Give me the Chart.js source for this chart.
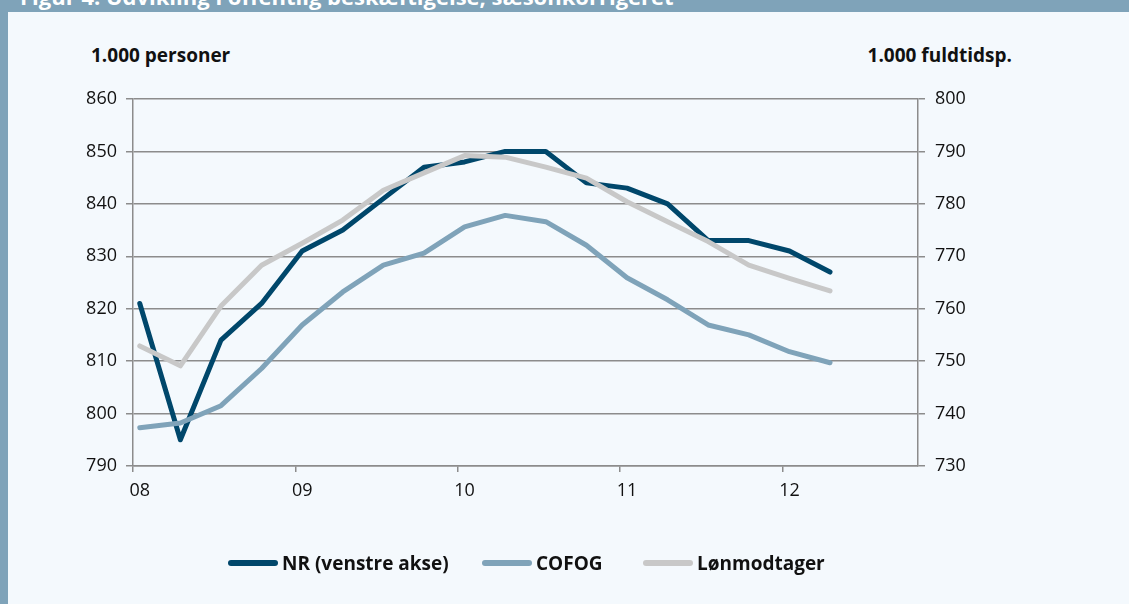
<!DOCTYPE html>
<html>
<head>
<meta charset="utf-8">
<script src="https://cdn.jsdelivr.net/npm/chart.js"></script>
<style>
  body { margin:0; width:1129px; height:604px; overflow:hidden; background:#f4f9fd; font-family:'Open Sans', sans-serif; }
  .frame-left { position:absolute; left:0; top:0; width:8px; height:604px; background:#7fa3b9; }
  .frame-top { position:absolute; left:0; top:0; width:1129px; height:12px; background:#7fa3b9; overflow:hidden; }
  .frame-top span { position:absolute; left:20px; top:-15px; color:#fff; font-weight:700; font-size:22px; line-height:22px; white-space:nowrap; }
  .unit { position:absolute; top:42px; font-weight:700; font-size:19px; color:#111; white-space:nowrap; }
  .legend-item { position:absolute; top:550px; display:flex; align-items:center; font-weight:700; font-size:19px; color:#111; white-space:nowrap; }
  .legend-item i { display:inline-block; width:50px; height:6px; border-radius:3px; margin-right:4px; }
  canvas { position:absolute; left:0; top:0; }
</style>
</head>
<body>
<div class="frame-left"></div>
<div class="frame-top"><span>Figur 4. Udvikling i offentlig beskæftigelse, sæsonkorrigeret</span></div>
<div class="unit" style="left:91px">1.000 personer</div>
<div class="unit" style="right:117px">1.000 fuldtidsp.</div>
<canvas id="chart" width="1129" height="604"></canvas>
<div id="legend"></div>
<script>
/* ── Offentlig beskæftigelse 2008–2012, kvartaler ───── */

// quarters, placed on the month the quarter starts
const quarters = ['2008-01','2008-04','2008-07','2008-10','2009-01','2009-04','2009-07','2009-10',
                  '2010-01','2010-04','2010-07','2010-10','2011-01','2011-04','2011-07','2011-10',
                  '2012-01','2012-04'];

// NR (left axis, 1.000 personer)
const nr = [821, 795, 814, 821, 831, 835, 841, 847, 848, 850, 850, 844, 843, 840, 833, 833, 831, 827];
// COFOG (right axis, 1.000 fuldtidsp.)
const cofog = [737.3, 738.2, 741.5, 748.6, 756.9, 763.2, 768.3, 770.6, 775.6, 777.8, 776.6, 772.1,
               765.9, 761.7, 756.9, 755.0, 751.8, 749.7];
// Lønmodtager (right axis)
const lonmodtager = [752.9, 749.1, 760.5, 768.3, 772.5, 776.9, 782.6, 785.9, 789.2, 788.9, 787.0, 784.9,
                     780.4, 776.6, 772.8, 768.3, 765.8, 763.4];

const leftTicks = { min: 790, max: 860, step: 10 };
const rightTicks = { min: 730, max: 800, step: 10 };

// monthly category axis, jan 2008 – okt 2012
const months = [];
for (let y = 2008; y <= 2012; y++) {
  for (let m = 1; m <= 12; m++) {
    if (y === 2012 && m > 10) break;
    months.push(`${y}-${String(m).padStart(2, '0')}`);
  }
}

const series = [
  { label: 'NR (venstre akse)', values: nr, color: '#00476b', axis: 'y', order: 3 },
  { label: 'COFOG', values: cofog, color: '#7fa3b9', axis: 'y2', order: 2 },
  { label: 'Lønmodtager', values: lonmodtager, color: '#c8c8c8', axis: 'y2', order: 1 },
];

const gridColor = '#8c8c8c';
const textColor = '#111';
const tickFont = { family: 'Open Sans', size: 18 };

new Chart(document.getElementById('chart'), {
  type: 'line',
  data: {
    labels: months,
    datasets: series.map(s => ({
      label: s.label,
      data: s.values.map((v, i) => ({ x: quarters[i], y: v })),
      yAxisID: s.axis,
      order: s.order,
      borderColor: s.color,
      backgroundColor: s.color,
      borderWidth: 5,
      borderJoinStyle: 'round',
      borderCapStyle: 'round',
      pointRadius: 0,
      tension: 0,
      fill: false
    }))
  },
  options: {
    responsive: false,
    animation: false,
    layout: { padding: { top: 99, left: 0, right: 0, bottom: 0 } },
    plugins: { legend: { display: false }, tooltip: { enabled: false } },
    scales: {
      x: {
        type: 'category',
        offset: true,
        grid: {
          offset: true,
          drawOnChartArea: false,
          drawTicks: true,
          tickLength: 6,
          lineWidth: 1.5,
          color: ctx => (ctx.tick && months[ctx.index].endsWith('-01')) ? gridColor : 'transparent'
        },
        border: { display: true, color: gridColor, width: 1.5 },
        ticks: {
          autoSkip: false,
          maxRotation: 0,
          padding: 8,
          color: textColor,
          font: tickFont,
          callback: function (value) {
            const lbl = this.getLabelForValue(value);
            return lbl.endsWith('-01') ? lbl.slice(2, 4) : '';
          }
        },
        afterFit: scale => { scale.height = 138; }
      },
      y: {
        position: 'left',
        min: leftTicks.min,
        max: leftTicks.max,
        grid: { color: gridColor, lineWidth: 1.5, tickLength: 7 },
        border: { display: true, color: gridColor, width: 1.5 },
        ticks: { stepSize: leftTicks.step, padding: 9, color: textColor, font: tickFont },
        afterFit: scale => { scale.width = 133; }
      },
      y2: {
        position: 'right',
        min: rightTicks.min,
        max: rightTicks.max,
        grid: { drawOnChartArea: false, color: gridColor, lineWidth: 1.5, tickLength: 7 },
        border: { display: true, color: gridColor, width: 1.5 },
        ticks: { stepSize: rightTicks.step, padding: 10, color: textColor, font: tickFont },
        afterFit: scale => { scale.width = 211; }
      }
    }
  }
});

// legend below the plot
const legendLeft = [228, 482, 643];
document.getElementById('legend').innerHTML = series.map((s, i) =>
  `<div class="legend-item" style="left:${legendLeft[i]}px"><i style="background:${s.color}"></i>${s.label}</div>`
).join('');
</script>
</body>
</html>
